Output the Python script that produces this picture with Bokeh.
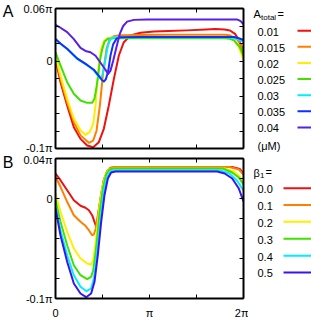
from bokeh.plotting import figure
from bokeh.layouts import row, column
from bokeh.models import Range1d, FixedTicker, LinearAxis
from bokeh.embed import file_html
from bokeh.resources import INLINE
from bokeh.core.properties import value

FONT = "Liberation Sans"

# x: phase in units of pi ; y: value in units of 0.01*pi
# ---------------- Panel A : A_total series ----------------
a_labels = ["0.01", "0.015", "0.02", "0.025", "0.03", "0.035", "0.04"]
a_colors = ["#f01010", "#ff8000", "#ffee00", "#40e000", "#00eeff", "#1030ff", "#5a1ee6"]

a1_x = [0, 0.053, 0.124, 0.195, 0.266, 0.337, 0.401, 0.461, 0.514, 0.567, 0.621, 0.674, 0.727, 0.798, 0.904, 1.046, 1.2, 1.4, 1.6, 1.7, 1.8, 1.856, 1.91, 1.955, 1.98, 2.0]
a1_y = [0.25, -2.42, -5.09, -7.56, -8.9, -9.66, -9.85, -9.28, -7.75, -5.09, -2.04, 0.63, 2.15, 2.91, 3.22, 3.37, 3.42, 3.5, 3.6, 3.65, 3.6, 3.49, 3.1, 2.34, 1.58, 0.63]

a2_x = [0, 0.053, 0.124, 0.195, 0.266, 0.355, 0.401, 0.436, 0.472, 0.507, 0.543, 0.578, 0.621, 0.691, 0.9, 1.2, 1.5, 1.8, 1.85, 1.93, 1.97, 2.0]
a2_y = [0.63, -2.04, -4.7, -6.97, -8.5, -9.35, -9.1, -8.0, -5.09, -1.28, 1.39, 2.53, 2.84, 2.95, 2.98, 3.0, 3.0, 3.0, 2.95, 2.5, 1.9, 1.2]

a3_x = [0, 0.053, 0.124, 0.195, 0.266, 0.319, 0.365, 0.401, 0.426, 0.443, 0.461, 0.486, 0.514, 0.55, 0.603, 0.9, 1.5, 1.8, 1.85, 1.9, 1.95, 2.0]
a3_y = [0.63, -1.66, -4.32, -6.6, -7.94, -8.44, -8.1, -7.2, -5.1, -2.6, -0.3, 1.4, 2.25, 2.6, 2.7, 2.68, 2.68, 2.68, 2.6, 2.35, 1.6, 0.1]

a4_x = [0, 0.053, 0.124, 0.195, 0.266, 0.337, 0.39, 0.415, 0.436, 0.454, 0.472, 0.496, 0.521, 0.557, 0.621, 0.9, 1.5, 1.8, 1.85, 1.9, 1.96, 2.0]
a4_y = [1.0, -0.51, -2.42, -3.75, -4.51, -4.78, -4.78, -4.3, -3.0, -1.7, 0.0, 1.3, 2.2, 2.55, 2.6, 2.6, 2.6, 2.6, 2.55, 2.35, 1.6, 0.6]

a5_x = [0, 0.053, 0.124, 0.23, 0.337, 0.408, 0.443, 0.472, 0.496, 0.514, 0.535, 0.557, 0.585, 0.628, 0.9, 1.5, 1.85, 1.93, 2.0]
a5_y = [2.45, 1.95, 1.37, 0.25, -0.47, -1.05, -1.55, -2.0, -1.7, -0.9, 0.4, 1.77, 2.5, 2.72, 2.72, 2.72, 2.7, 2.55, 2.2]

a6_x = [0, 0.053, 0.124, 0.23, 0.337, 0.408, 0.461, 0.496, 0.514, 0.535, 0.56, 0.585, 0.613, 0.649, 0.691, 0.9, 1.5, 1.9, 1.95, 2.0]
a6_y = [2.53, 2.0, 1.39, 0.3, -0.45, -1.0, -1.7, -2.2, -2.34, -2.1, -1.2, 0.63, 1.9, 2.55, 2.72, 2.75, 2.75, 2.75, 2.6, 2.4]

a7_x = [0, 0.053, 0.124, 0.195, 0.266, 0.319, 0.372, 0.426, 0.479, 0.532, 0.56, 0.585, 0.613, 0.649, 0.684, 0.72, 0.762, 0.833, 0.975, 1.5, 1.93, 1.97, 2.0]
a7_y = [4.13, 3.8, 3.3, 2.5, 1.5, 1.15, 1.0, 0.6, -0.2, -1.0, -1.47, -1.1, 0.0, 1.6, 3.1, 4.0, 4.5, 4.7, 4.75, 4.75, 4.75, 4.55, 4.2]

a_xs = [a1_x, a2_x, a3_x, a4_x, a5_x, a6_x, a7_x]
a_ys = [a1_y, a2_y, a3_y, a4_y, a5_y, a6_y, a7_y]

# ---------------- Panel B : beta_1 series ----------------
b_labels = ["0.0", "0.1", "0.2", "0.3", "0.4", "0.5"]
b_colors = ["#f01010", "#ff8000", "#ffee00", "#40e000", "#00eeff", "#3a14f0"]

b1_x = [0, 0.053, 0.124, 0.195, 0.266, 0.319, 0.355, 0.39, 0.415, 0.433, 0.447, 0.465, 0.486, 0.514, 0.55, 0.585, 0.638, 1.0, 1.5, 1.88, 1.96, 2.0]
b1_y = [2.5, 1.83, 0.83, -0.17, -0.73, -0.93, -1.17, -1.67, -2.33, -2.83, -2.1, -0.9, 0.4, 1.83, 2.73, 3.05, 3.15, 3.15, 3.15, 3.15, 2.95, 2.5]

b2_x = [0, 0.053, 0.124, 0.195, 0.266, 0.319, 0.355, 0.39, 0.408, 0.429, 0.45, 0.479, 0.514, 0.55, 0.585, 0.638, 1.0, 1.5, 1.85, 1.95, 2.0]
b2_y = [2.17, 1.17, -0.33, -1.67, -2.33, -2.73, -3.17, -3.67, -3.6, -3.0, -1.7, 0.0, 1.83, 2.73, 3.07, 3.15, 3.15, 3.15, 3.15, 2.9, 2.4]

b3_x = [0, 0.053, 0.124, 0.195, 0.266, 0.337, 0.379, 0.401, 0.422, 0.443, 0.468, 0.496, 0.532, 0.567, 0.621, 1.0, 1.5, 1.8, 1.9, 1.96, 2.0]
b3_y = [0.5, -1.33, -3.33, -5.0, -6.0, -6.5, -6.6, -6.2, -4.8, -3.0, -0.8, 1.0, 2.33, 2.93, 3.0, 3.0, 3.0, 3.0, 2.7, 2.2, 1.6]

b4_x = [0, 0.053, 0.124, 0.195, 0.266, 0.337, 0.379, 0.401, 0.422, 0.443, 0.468, 0.504, 0.539, 0.574, 0.621, 1.0, 1.5, 1.78, 1.88, 1.95, 2.0]
b4_y = [-0.17, -2.33, -4.67, -6.67, -7.67, -8.07, -7.83, -7.2, -5.8, -4.0, -1.5, 1.0, 2.4, 2.9, 3.0, 3.0, 3.0, 3.0, 2.6, 2.1, 1.4]

b5_x = [0, 0.053, 0.124, 0.195, 0.266, 0.33, 0.379, 0.408, 0.443, 0.479, 0.514, 0.55, 0.585, 0.638, 1.0, 1.5, 1.75, 1.85, 1.93, 2.0]
b5_y = [-0.67, -3.17, -5.67, -7.67, -8.83, -9.27, -9.0, -8.0, -5.33, -2.0, 0.67, 2.17, 2.73, 2.83, 2.83, 2.83, 2.83, 2.5, 1.8, 0.8]

b6_x = [0, 0.053, 0.124, 0.195, 0.266, 0.326, 0.379, 0.415, 0.45, 0.486, 0.521, 0.557, 0.592, 0.638, 1.0, 1.5, 1.72, 1.8, 1.88, 1.95, 2.0]
b6_y = [-1.0, -3.67, -6.33, -8.5, -9.5, -9.87, -9.5, -8.33, -5.67, -2.33, 0.33, 2.0, 2.6, 2.7, 2.7, 2.7, 2.7, 2.5, 2.0, 1.0, -0.3]

b_xs = [b1_x, b2_x, b3_x, b4_x, b5_x, b6_x]
b_ys = [b1_y, b2_y, b3_y, b4_y, b5_y, b6_y]

x_ticks = [0, 0.5, 1, 1.5, 2]
x_tick_text = {0: "0", 0.5: "", 1: "π", 1.5: "", 2: "2π"}
a_y_ticks = [-10, -8, -6, -4, -2, 0, 2, 4, 6]
a_y_text = {-10: "-0.1π", 0: "0", 6: "0.06π"}
b_y_ticks = [-10, -8, -6, -4, -2, 0, 2, 4]
b_y_text = {-10: "-0.1π", 0: "0", 4: "0.04π"}
panel_letters = ["A", "B"]


def style_axis(ax, ticks, overrides, show_labels):
    ax.ticker = FixedTicker(ticks=ticks)
    ax.major_label_overrides = {t: (overrides.get(t, "") if show_labels else "") for t in ticks}
    ax.major_tick_in = 4
    ax.major_tick_out = 0
    ax.minor_tick_line_color = None
    ax.axis_line_width = 2
    ax.axis_line_color = "black"
    ax.major_tick_line_color = "black"
    ax.major_label_text_font = FONT
    ax.major_label_text_color = "black"
    if show_labels:
        ax.major_label_text_font_size = "11px"
    else:
        ax.major_label_text_font_size = "0px"
        ax.major_label_standoff = 0


def panel(w, h, yr, yticks, ytext, show_x, borders):
    p = figure(width=w, height=h, x_range=Range1d(0, 2), y_range=Range1d(*yr),
               output_backend="svg", toolbar_location=None,
               min_border_left=borders[0], min_border_right=borders[1],
               min_border_top=borders[2], min_border_bottom=borders[3])
    p.xgrid.visible = False
    p.ygrid.visible = False
    p.outline_line_color = None
    p.background_fill_color = "white"
    p.border_fill_color = "white"
    style_axis(p.yaxis[0], yticks, ytext, True)
    p.yaxis[0].major_label_standoff = 3
    style_axis(p.xaxis[0], x_ticks, x_tick_text, show_x)
    if show_x:
        p.xaxis[0].major_label_standoff = 8
    right = LinearAxis()
    style_axis(right, yticks, ytext, False)
    p.add_layout(right, "right")
    top = LinearAxis()
    style_axis(top, x_ticks, x_tick_text, False)
    p.add_layout(top, "above")
    return p


pA = panel(234, 153, (-10, 6), a_y_ticks, a_y_text, False, (41, 5, 8, 5))
for xs, ys, c in zip(a_xs, a_ys, a_colors):
    pA.line(xs, ys, line_color=c, line_width=2, line_join="round")

pB = panel(234, 168, (-10, 4), b_y_ticks, b_y_text, True, (41, 5, 5, 23))
for xs, ys, c in zip(b_xs, b_ys, b_colors):
    pB.line(xs, ys, line_color=c, line_width=2, line_join="round")


def blank_fig(w, h, x0, y0):
    q = figure(width=w, height=h, x_range=Range1d(x0, x0 + w), y_range=Range1d(y0 + h, y0),
               output_backend="svg", toolbar_location=None,
               min_border_left=0, min_border_right=0, min_border_top=0, min_border_bottom=0)
    q.axis.visible = False
    q.xgrid.visible = False
    q.ygrid.visible = False
    q.outline_line_color = None
    q.border_fill_color = "white"
    return q


def txt(q, x, y, s, size="11px", align="left"):
    q.text(x=[x], y=[y], text=[s], text_font=value(FONT), text_font_size=size,
           text_align=align, text_baseline="middle", text_color="black")


# panel letters (left strip, page pixel coordinates)
letters = blank_fig(14, 321, 0, 0)
txt(letters, 7.5, 10.5, panel_letters[0], "16px", "center")
txt(letters, 7.5, 162, panel_letters[1], "16px", "center")

# legends (right strip, page pixel coordinates)
legA = blank_fig(63, 153, 248, 0)
txt(legA, 253, 13, "A")
txt(legA, 260.5, 16.5, "total", "8px")
txt(legA, 277, 13, "=")
a_rows = [31, 47, 63.2, 79.3, 95.5, 111.6, 127.8]
for lab, c, yy in zip(a_labels, a_colors, a_rows):
    txt(legA, 257, yy, lab)
    legA.segment(x0=[297], y0=[yy - 0.8], x1=[314], y1=[yy - 0.8], line_color=c, line_width=2)
txt(legA, 257, 145, "(μM)")

legB = blank_fig(63, 168, 248, 153)
txt(legB, 253, 172, "β")
txt(legB, 259.5, 175, "1", "8px")
txt(legB, 265, 171.5, "=")
b_rows = [188.5, 205.3, 222, 239, 256, 272.8]
for lab, c, yy in zip(b_labels, b_colors, b_rows):
    txt(legB, 257, yy, lab)
    legB.segment(x0=[283], y0=[yy - 0.8], x1=[314], y1=[yy - 0.8], line_color=c, line_width=2)

layout = row(letters, column(pA, pB, spacing=0), column(legA, legB, spacing=0), spacing=0)

open("out.html", "w").write(file_html(layout, INLINE))
